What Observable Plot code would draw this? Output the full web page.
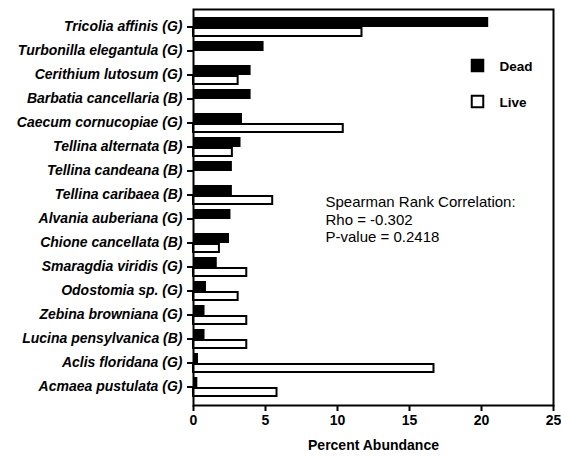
<!DOCTYPE html>
<html>
<head>
<meta charset="utf-8">
<script src="https://cdn.jsdelivr.net/npm/d3@7"></script>
<script src="https://cdn.jsdelivr.net/npm/@observablehq/plot@0.6"></script>
<style>
  html, body { margin: 0; padding: 0; background: #fff; }
  #chart svg { display: block; }
</style>
</head>
<body>
<div id="chart"></div>
<script>
// Species, with group code: (G) gastropod, (B) bivalve
const species = [
  "Tricolia affinis (G)",
  "Turbonilla elegantula (G)",
  "Cerithium lutosum (G)",
  "Barbatia cancellaria (B)",
  "Caecum cornucopiae (G)",
  "Tellina alternata (B)",
  "Tellina candeana (B)",
  "Tellina caribaea (B)",
  "Alvania auberiana (G)",
  "Chione cancellata (B)",
  "Smaragdia viridis (G)",
  "Odostomia sp. (G)",
  "Zebina browniana (G)",
  "Lucina pensylvanica (B)",
  "Aclis floridana (G)",
  "Acmaea pustulata (G)"
];

// Percent abundance of dead shells and live animals
const dead = [20.5, 4.9, 4.0, 4.0, 3.4, 3.3, 2.7, 2.7, 2.6, 2.5, 1.65, 0.9, 0.8, 0.8, 0.35, 0.3];
const live = [11.7, 0, 3.1, 0, 10.4, 2.7, 0, 5.5, 0, 1.8, 3.7, 3.1, 3.7, 3.7, 16.7, 5.8];

const xTicks = [0, 5, 10, 15, 20, 25];
const legendItems = ["Dead", "Live"];
const statsLines = ["Spearman Rank Correlation:", "Rho = -0.302", "P-value = 0.2418"];

const deadRows = species.map((s, i) => ({species: s, value: dead[i]})).filter(d => d.value > 0);
const liveRows = species.map((s, i) => ({species: s, value: live[i]})).filter(d => d.value > 0);

const W = 561, H = 464;
const mTop = 9, mBottom = 59, mLeft = 193, mRight = 8;
const padIn = 0.19, padOut = 0.12;
// half of a category band: the dead bar sits above the tick, the live bar below
const step = (H - mTop - mBottom) / (species.length - padIn + 2 * padOut);
const half = step * (1 - padIn) / 2;

// one legend row: swatch plus name
function legendRow(name, rowOffset, filled) {
  return [
    Plot.dot([name], {
      frameAnchor: "top-right", dx: -76, dy: rowOffset,
      symbol: "square", r: 6.5,
      fill: filled ? "#000" : "#fff", stroke: "#000", strokeWidth: 2
    }),
    Plot.text([name], {
      text: d => d, frameAnchor: "top-right", textAnchor: "start", lineAnchor: "middle",
      dx: -54, dy: rowOffset + 1, fontSize: 13.5, fontWeight: "bold"
    })
  ];
}

const chart = Plot.plot({
  width: W,
  height: H,
  marginTop: mTop,
  marginBottom: mBottom,
  marginLeft: mLeft,
  marginRight: mRight,
  style: {fontFamily: "'Liberation Sans', Arial, sans-serif", color: "#000", background: "#fff"},
  x: {domain: [0, 25], ticks: xTicks},
  y: {domain: species, paddingInner: padIn, paddingOuter: padOut},
  marks: [
    Plot.barX(deadRows, {x: "value", y: "species", fill: "#000", insetBottom: half - 1}),
    Plot.barX(liveRows, {x: "value", y: "species", fill: "#fff", stroke: "#000", strokeWidth: 2, insetTop: half + 1}),
    Plot.frame({stroke: "#000", strokeWidth: 2}),
    Plot.axisY({
      tickSize: 6, tickPadding: 5, strokeWidth: 2,
      fontSize: 14, fontStyle: "italic", fontWeight: "bold", label: null
    }),
    Plot.axisX({
      ticks: xTicks, tickSize: 6, tickPadding: 4, strokeWidth: 2,
      fontSize: 14, fontWeight: "bold",
      label: "Percent Abundance", labelAnchor: "center", labelArrow: "none", labelOffset: 44
    }),
    ...legendRow(legendItems[0], 56, true),
    ...legendRow(legendItems[1], 92, false),
    Plot.text([statsLines.join("\n")], {
      text: d => d, frameAnchor: "top-left", textAnchor: "start", lineAnchor: "top",
      dx: 132, dy: 185, lineHeight: 1.17, fontSize: 15
    })
  ]
});

document.getElementById("chart").appendChild(chart);
</script>
</body>
</html>
